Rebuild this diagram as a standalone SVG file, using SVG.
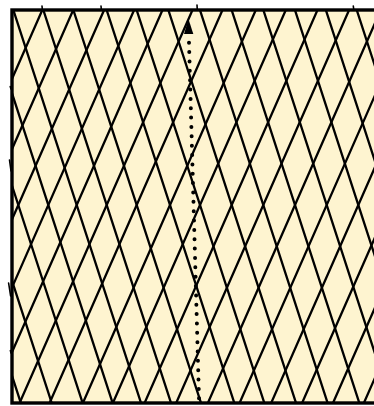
<svg xmlns="http://www.w3.org/2000/svg" width="374" height="406" viewBox="0 0 374 406">
<style>
.bg{fill:#fef4d0;stroke:none}
.frame{fill:none;stroke:#000;stroke-width:3.4}
.hatch{fill:none;stroke:#000;stroke-width:2.3;stroke-linecap:round}
.tick{fill:none;stroke:#000;stroke-width:1.6;stroke-linecap:round}
.dots{fill:none;stroke:#000;stroke-width:4;stroke-linecap:round;stroke-dasharray:0 9.36}
</style>
<defs>
<clipPath id="clip"><rect x="12" y="10" width="380" height="393"/></clipPath>
</defs>
<g id="panel">
<rect class="bg" x="12" y="10" width="380" height="393"/>
<g clip-path="url(#clip)">
<path class="hatch" d="M-116.6,-20L29.6,430M-85.7,-20L60.5,430M-54.8,-20L91.4,430M-24.8,-20L121.4,430M3.6,-20L149.8,430M33.6,-20L179.8,430M63.6,-20L209.8,430M96.9,-20L243.1,430M126.9,-20L273.1,430M158.6,-20L304.8,430M190.2,-20L336.4,430M221.9,-20L368.1,430M253.6,-20L399.8,430M285.2,-20L431.4,430M316.1,-20L462.3,430M347,-20L493.2,430"/>
<path class="hatch" d="M24.6,-20L-173.4,430M55.5,-20L-142.5,430M86.4,-20L-111.6,430M117.3,-20L-80.7,430M147.3,-20L-50.7,430M175.7,-20L-22.3,430M205.7,-20L7.7,430M235.7,-20L37.7,430M269,-20L71,430M299,-20L101,430M330.7,-20L132.7,430M362.3,-20L164.3,430M394,-20L196,430M425.7,-20L227.7,430M457.3,-20L259.3,430M488.2,-20L290.2,430M519.1,-20L321.1,430M550,-20L352,430"/>
</g>
<path class="tick" d="M42,6L42.4,10M101,6L101.4,10M197,5L197.3,10M353.3,6L353.8,10M9.5,160L11,171M8.6,283L10.6,296M10.2,86.5L11,89M10.4,350.5L11,353"/>
<rect class="frame" x="12" y="10" width="380" height="393"/>
</g>
<g id="connectors">
<path class="dots" d="M199,398.3L189,42.7"/>
<path d="M188.5,19L193.3,34L184,34Z" fill="#000"/>
</g>
</svg>
